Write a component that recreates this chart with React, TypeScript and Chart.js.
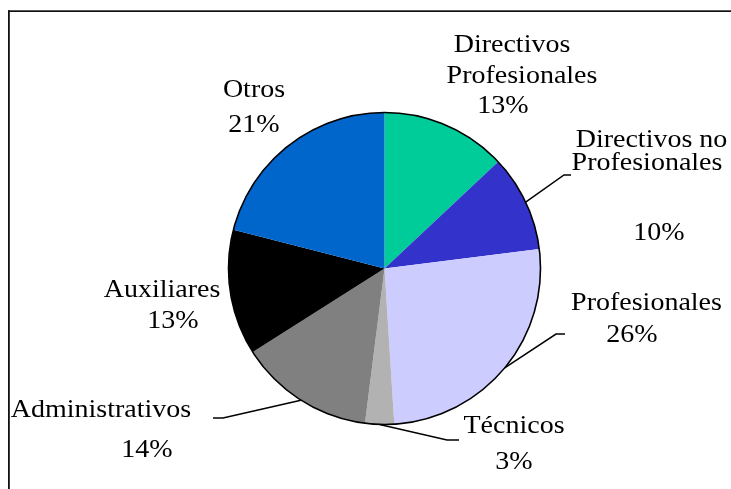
import React, { useEffect, useRef } from "react";
import { Chart, registerables } from "chart.js";

Chart.register(...registerables);

// ---- data ----
const categories = [
  "Directivos Profesionales",
  "Directivos no Profesionales",
  "Profesionales",
  "Técnicos",
  "Administrativos",
  "Auxiliares",
  "Otros",
];
const shares = [13, 10, 26, 3, 14, 13, 21];
const percentLabels = ["13%", "10%", "26%", "3%", "14%", "13%", "21%"];
const nameLines = [
  ["Directivos", "Profesionales"],
  ["Directivos no", "Profesionales"],
  ["Profesionales"],
  ["Técnicos"],
  ["Administrativos"],
  ["Auxiliares"],
  ["Otros"],
];
const sliceColors = ["#00CC99", "#3333CC", "#CCCCFF", "#B2B2B2", "#808080", "#000000", "#0066CC"];

// ---- layout (offsets from pie centre, px) ----
// per slice: positions for each text row (name rows then percent row): [dx, baselineDy]
const labelRows: number[][][] = [
  [[127.5, -216.5], [137.5, -185.5], [118.5, -155.5]],
  [[267, -121.5], [262.5, -98.5], [274.5, -28.5]],
  [[262, 41.5], [247.5, 73.5]],
  [[129.5, 164.5], [129.5, 200.5]],
  [[-283.5, 148.5], [-237.5, 188.5]],
  [[-222.5, 28.5], [-211.5, 59.5]],
  [[-130.5, -171.5], [-130.5, -136.5]],
];
// leader lines: bend points after the start on the slice's outer edge
const leaderBends: (number[][] | null)[] = [
  null,
  [[179.5, -93.5], [186.5, -93.5]],
  [[171.5, 65.5], [180.5, 65.5]],
  [[62.5, 171.5], [74.5, 171.5]],
  [[-161.5, 149.5], [-171.5, 149.5]],
  null,
  null,
];

const FONT = '25px "Liberation Serif", "Times New Roman", serif';
const H_SCALE = 1.12;

const framePlugin = {
  id: "frame",
  beforeDraw(chart: any) {
    const ctx = chart.ctx as CanvasRenderingContext2D;
    ctx.save();
    ctx.fillStyle = "#ffffff";
    ctx.fillRect(0, 0, chart.width, chart.height);
    ctx.fillStyle = "#111111";
    ctx.fillRect(8, 10.3, chart.width - 8, 1.7);
    ctx.fillRect(8, 10.3, 1.8, chart.height - 10.3);
    ctx.restore();
  },
};

const labelPlugin = {
  id: "pieLabels",
  afterDatasetsDraw(chart: any) {
    const ctx = chart.ctx as CanvasRenderingContext2D;
    const meta = chart.getDatasetMeta(0);
    const a0 = meta.data[0] as any;
    const cx = a0.x;
    const cy = a0.y;
    const R = a0.outerRadius;
    ctx.save();
    // outer outline
    ctx.beginPath();
    ctx.arc(cx, cy, R, 0, Math.PI * 2);
    ctx.lineWidth = 1.6;
    ctx.strokeStyle = "#000";
    ctx.stroke();
    // leader lines
    ctx.lineWidth = 1.5;
    leaderBends.forEach((pts, i) => {
      if (!pts) return;
      const a = meta.data[i] as any;
      const mid = (a.startAngle + a.endAngle) / 2;
      ctx.beginPath();
      ctx.moveTo(cx + R * Math.cos(mid), cy + R * Math.sin(mid));
      pts.forEach(([dx, dy]) => ctx.lineTo(cx + dx, cy + dy));
      ctx.stroke();
    });
    // labels
    ctx.font = FONT;
    ctx.fillStyle = "#000";
    ctx.textAlign = "center";
    ctx.textBaseline = "alphabetic";
    categories.forEach((_, i) => {
      const rows = [...nameLines[i], percentLabels[i]];
      rows.forEach((text, j) => {
        const pos = labelRows[i][j];
        ctx.save();
        ctx.translate(cx + pos[0], cy + pos[1]);
        ctx.scale(H_SCALE, 1);
        ctx.fillText(text, 0, 0);
        ctx.restore();
      });
    });
    ctx.restore();
  },
};

export default function App() {
  const ref = useRef<HTMLCanvasElement | null>(null);
  useEffect(() => {
    if (!ref.current) return;
    const chart = new Chart(ref.current, {
      type: "pie",
      data: {
        labels: categories,
        datasets: [
          {
            data: shares,
            backgroundColor: sliceColors,
            borderWidth: 0,
          },
        ],
      },
      options: {
        responsive: false,
        maintainAspectRatio: false,
        animation: false,
        layout: { padding: { left: 228.5, right: 190.5, top: 112.5, bottom: 64.5 } },
        plugins: {
          legend: { display: false },
          tooltip: { enabled: false },
        },
      },
      plugins: [framePlugin, labelPlugin],
    });
    return () => chart.destroy();
  }, []);
  return (
    <div style={{ position: "fixed", left: 0, top: 0, width: 731, height: 489 }}>
      <canvas ref={ref} width={731} height={489} style={{ display: "block" }} />
    </div>
  );
}
